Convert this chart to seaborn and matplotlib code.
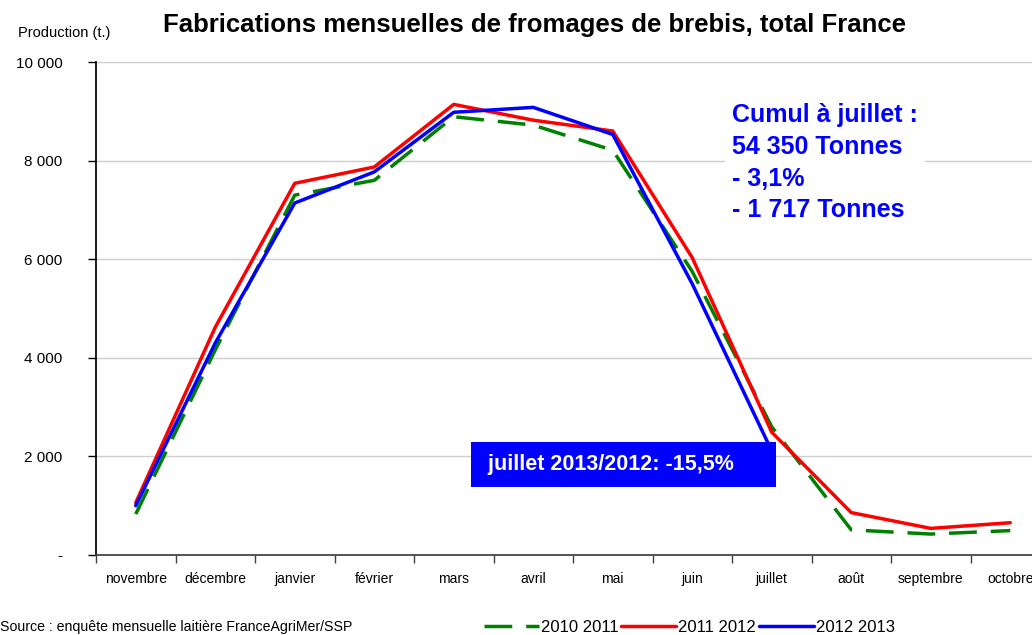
###########################################
# Fabrications mensuelles fromages brebis #
###########################################

import numpy as np
import pandas as pd
import matplotlib as mpl
import matplotlib.pyplot as plt
import seaborn as sns

# months of the campaign (nov -> oct)
mois = ['novembre', 'décembre', 'janvier', 'février', 'mars', 'avril',
        'mai', 'juin', 'juillet', 'août', 'septembre', 'octobre']

# monthly production in tonnes
prod_2010_2011 = [830, 4160, 7300, 7600, 8890, 8720, 8210, 5750, 2600, 510, 425, 495]
prod_2011_2012 = [1060, 4620, 7540, 7870, 9140, 8820, 8600, 6030, 2490, 860, 540, 655]
prod_2012_2013 = [1000, 4300, 7140, 7770, 8980, 9080, 8530, 5500, 2110,
                  np.nan, np.nan, np.nan]

campagnes = ['2010 2011', '2011 2012', '2012 2013']
yticks = [0, 2000, 4000, 6000, 8000, 10000]
ytick_labels = ['-', '2 000', '4 000', '6 000', '8 000', '10 000']

# long format for seaborn
df = pd.DataFrame({
    'mois': mois * 3,
    'prod': prod_2010_2011 + prod_2011_2012 + prod_2012_2013,
    'campagne': np.repeat(campagnes, len(mois)),
})
df = df.dropna()

sns.set_theme(style='white')
plt.rcParams['font.family'] = ['Liberation Sans', 'DejaVu Sans']
plt.rcParams['text.color'] = 'black'

fig = plt.figure(figsize=(10.32, 6.35), dpi=100)
# axes runs past the right edge like in the original export
ax = fig.add_axes([96 / 1032, 80 / 635, 954 / 1032, 493 / 635])

palette = {'2010 2011': '#008000', '2011 2012': '#ff0000', '2012 2013': '#0000ff'}
dashes = {'2010 2011': (8, 4), '2011 2012': '', '2012 2013': ''}

sns.lineplot(data=df, x='mois', y='prod', hue='campagne', style='campagne',
             palette=palette, dashes=dashes, linewidth=2.5, sort=False,
             legend=False, ax=ax, zorder=3)

# axes / grid
ax.set_xlim(-0.5, 11.5)
ax.set_ylim(0, 10000)
ax.set_yticks(yticks)
ax.set_yticklabels(ytick_labels, fontsize=11, color='black')
ax.yaxis.grid(True, color='#cfcfcf', linewidth=1)
ax.xaxis.grid(False)
ax.set_xticks(np.arange(-0.5, 12, 1))
ax.set_xticklabels([])
ax.set_xticks(np.arange(12), minor=True)
ax.set_xticklabels(mois, minor=True, fontsize=10, color='black')
ax.tick_params(axis='x', which='major', direction='out', length=6, width=1,
               color='#404040', bottom=True)
ax.tick_params(axis='x', which='minor', length=0, pad=12)
ax.tick_params(axis='y', direction='out', length=6, width=1, color='black',
               left=True, pad=18)
ax.set_xlabel('')
ax.set_ylabel('')
for s in ['top', 'right']:
    ax.spines[s].set_visible(False)
ax.spines['left'].set_color('black')
ax.spines['bottom'].set_color('#404040')

# texts
fig.text(0.518, 0.961, 'Fabrications mensuelles de fromages de brebis, total France',
         ha='center', va='center', fontsize=18.5, fontweight='bold', color='black')
fig.text(110 / 1032, 1 - 33 / 635, 'Production (t.)', ha='right', va='center',
         fontsize=10.5)
fig.text(0.0, 1 - 627 / 635, 'Source : enquête mensuelle laitière FranceAgriMer/SSP',
         ha='left', va='center', fontsize=10.2)

ax.text(7.5, 9160, 'Cumul à juillet :\n54 350 Tonnes\n- 3,1%\n- 1 717 Tonnes',
        ha='left', va='top', fontsize=18, fontweight='bold', color='#0000ff',
        linespacing=1.4, zorder=4,
        bbox=dict(boxstyle='square,pad=0.3', facecolor='white', edgecolor='none'))

ax.text(4.36, 1836, ' juillet 2013/2012: -15,5%     ', ha='left', va='center',
        fontsize=15.5, fontweight='bold', color='white', zorder=5,
        bbox=dict(boxstyle='square,pad=0.55', facecolor='#0000ff', edgecolor='none'))

# legend
handles = [mpl.lines.Line2D([], [], color=palette[c], linewidth=2.5,
                            dashes=dashes[c] if dashes[c] else (None, None))
           for c in campagnes]
fig.legend(handles, campagnes, loc='center', bbox_to_anchor=(0.668, 1 - 627 / 635),
           ncol=3, frameon=False, fontsize=12, handlelength=3.3,
           handletextpad=0.1, columnspacing=0.2, borderpad=0)

fig.savefig('out.png', dpi=100)
